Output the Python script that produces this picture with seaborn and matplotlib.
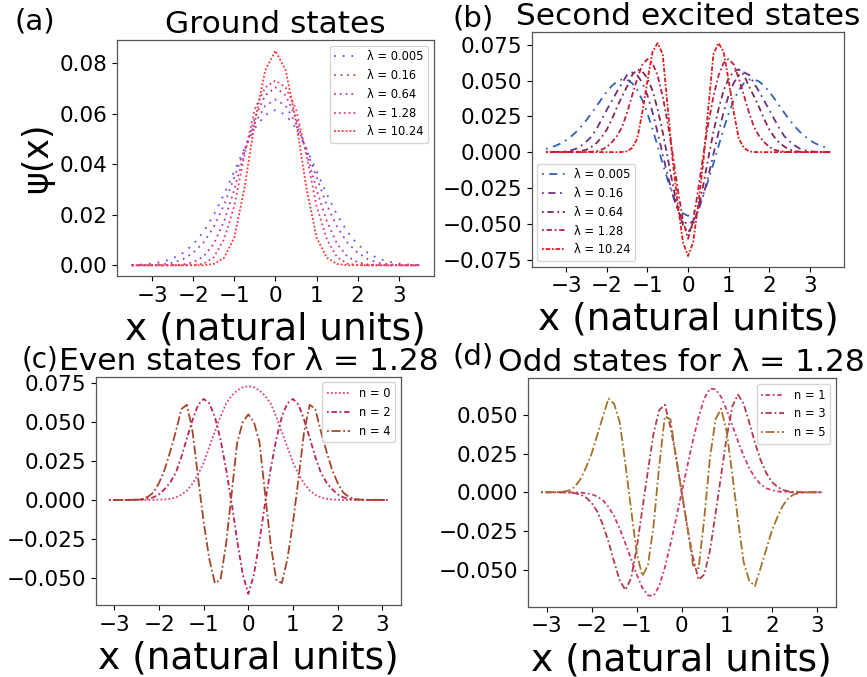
import matplotlib
matplotlib.use("Agg")
import matplotlib.pyplot as plt
import seaborn as sns

# ---- data ----
# (a) ground states, x grid step 0.25
X_A = [-3.5, -3.25, -3.0, -2.75, -2.5, -2.25, -2.0, -1.75, -1.5, -1.25, -1.0, -0.75, -0.5, -0.25,
       0.0, 0.25, 0.5, 0.75, 1.0, 1.25, 1.5, 1.75, 2.0, 2.25, 2.5, 2.75, 3.0, 3.25, 3.5]
A_LAMBDAS = ["0.005", "0.16", "0.64", "1.28", "10.24"]
A_005 = [0.0001, 0.0003, 0.0007, 0.0014, 0.0027, 0.0049, 0.0083, 0.0133, 0.0200, 0.0282, 0.0373, 0.0464, 0.0543, 0.0596,
         0.0615, 0.0596, 0.0543, 0.0464, 0.0373, 0.0282, 0.0200, 0.0133, 0.0083, 0.0049, 0.0027, 0.0014, 0.0007, 0.0003, 0.0001]
A_016 = [0.0, 0.0, 0.0001, 0.0004, 0.0010, 0.0024, 0.0050, 0.0090, 0.0152, 0.0240, 0.0350, 0.0461, 0.0562, 0.0632,
         0.0657, 0.0632, 0.0562, 0.0461, 0.0350, 0.0240, 0.0152, 0.0090, 0.0050, 0.0024, 0.0010, 0.0004, 0.0001, 0.0, 0.0]
A_064 = [0.0, 0.0, 0.0, 0.0, 0.0001, 0.0003, 0.0012, 0.0035, 0.0085, 0.0175, 0.0300, 0.0450, 0.0585, 0.0673,
         0.0705, 0.0673, 0.0585, 0.0450, 0.0300, 0.0175, 0.0085, 0.0035, 0.0012, 0.0003, 0.0001, 0.0, 0.0, 0.0, 0.0]
A_128 = [0.0, 0.0, 0.0, 0.0, 0.0, 0.0, 0.0001, 0.0006, 0.0032, 0.0103, 0.0236, 0.0440, 0.0620, 0.0704,
         0.0733, 0.0704, 0.0620, 0.0440, 0.0236, 0.0103, 0.0032, 0.0006, 0.0001, 0.0, 0.0, 0.0, 0.0, 0.0, 0.0]
A_1024 = [0.0, 0.0, 0.0, 0.0, 0.0, 0.0, 0.0, 0.0, 0.0005, 0.0030, 0.0110, 0.0310, 0.0570, 0.0772,
          0.0850, 0.0772, 0.0570, 0.0310, 0.0110, 0.0030, 0.0005, 0.0, 0.0, 0.0, 0.0, 0.0, 0.0, 0.0, 0.0]

# (b) second excited states, x grid step 0.125
X_B = [-3.5, -3.375, -3.25, -3.125, -3.0, -2.875, -2.75, -2.625, -2.5, -2.375, -2.25, -2.125, -2.0, -1.875,
       -1.75, -1.625, -1.5, -1.375, -1.25, -1.125, -1.0, -0.875, -0.75, -0.625, -0.5, -0.375, -0.25, -0.125,
       0.0, 0.125, 0.25, 0.375, 0.5, 0.625, 0.75, 0.875, 1.0, 1.125, 1.25, 1.375, 1.5, 1.625, 1.75, 1.875,
       2.0, 2.125, 2.25, 2.375, 2.5, 2.625, 2.75, 2.875, 3.0, 3.125, 3.25, 3.375, 3.5]
B_005 = [0.0023, 0.0033, 0.0046, 0.0062, 0.0084, 0.0111, 0.0143, 0.0181, 0.0225, 0.0273, 0.0323, 0.0374, 0.0422, 0.0463,
         0.0493, 0.0509, 0.0506, 0.0481, 0.0433, 0.0362, 0.0270, 0.0161, 0.0042, -0.0080, -0.0196, -0.0298, -0.0377, -0.0428,
         -0.0445, -0.0428, -0.0377, -0.0298, -0.0196, -0.0080, 0.0042, 0.0161, 0.0270, 0.0362, 0.0433, 0.0481, 0.0506, 0.0509,
         0.0493, 0.0463, 0.0422, 0.0374, 0.0323, 0.0273, 0.0225, 0.0181, 0.0143, 0.0111, 0.0084, 0.0062, 0.0046, 0.0033, 0.0023]
B_016 = [0.0, 0.0, 0.0001, 0.0003, 0.0006, 0.0013, 0.0025, 0.0047, 0.0075, 0.0110, 0.0164, 0.0230, 0.0296, 0.0359,
         0.0423, 0.0482, 0.0540, 0.0557, 0.0537, 0.0484, 0.0396, 0.0278, 0.0137, -0.0015, -0.0166, -0.0302, -0.0411, -0.0481,
         -0.0505, -0.0481, -0.0411, -0.0302, -0.0166, -0.0015, 0.0137, 0.0278, 0.0396, 0.0484, 0.0537, 0.0557, 0.0540, 0.0482,
         0.0423, 0.0359, 0.0296, 0.0230, 0.0164, 0.0110, 0.0075, 0.0047, 0.0025, 0.0013, 0.0006, 0.0003, 0.0001, 0.0, 0.0]
B_064 = [0.0, 0.0, 0.0, 0.0, 0.0, 0.0001, 0.0003, 0.0008, 0.0018, 0.0038, 0.0065, 0.0105, 0.0158, 0.0230,
         0.0314, 0.0389, 0.0460, 0.0540, 0.0578, 0.0563, 0.0515, 0.0430, 0.0300, 0.0140, -0.0040, -0.0230, -0.0395, -0.0510,
         -0.0560, -0.0510, -0.0395, -0.0230, -0.0040, 0.0140, 0.0300, 0.0430, 0.0515, 0.0563, 0.0578, 0.0540, 0.0460, 0.0389,
         0.0314, 0.0230, 0.0158, 0.0105, 0.0065, 0.0038, 0.0018, 0.0008, 0.0003, 0.0001, 0.0, 0.0, 0.0, 0.0, 0.0]
B_128 = [0.0, 0.0, 0.0, 0.0, 0.0, 0.0, 0.0, 0.0, 0.0001, 0.0003, 0.0007, 0.0017, 0.0036, 0.0070,
         0.0112, 0.0175, 0.0277, 0.0398, 0.0515, 0.0612, 0.0650, 0.0622, 0.0535, 0.0390, 0.0200, -0.0020, -0.0262, -0.0480,
         -0.0605, -0.0480, -0.0262, -0.0020, 0.0200, 0.0390, 0.0535, 0.0622, 0.0650, 0.0612, 0.0515, 0.0398, 0.0277, 0.0175,
         0.0112, 0.0070, 0.0036, 0.0017, 0.0007, 0.0003, 0.0001, 0.0, 0.0, 0.0, 0.0, 0.0, 0.0, 0.0, 0.0]
B_1024 = [0.0, 0.0, 0.0, 0.0, 0.0, 0.0, 0.0, 0.0, 0.0, 0.0, 0.0, 0.0, 0.0, 0.0,
          0.0, 0.0001, 0.0006, 0.0030, 0.0095, 0.0280, 0.0500, 0.0700, 0.0762, 0.0685, 0.0310, -0.0070, -0.0370, -0.0630,
          -0.0726, -0.0630, -0.0370, -0.0070, 0.0310, 0.0685, 0.0762, 0.0700, 0.0500, 0.0280, 0.0095, 0.0030, 0.0006, 0.0001,
          0.0, 0.0, 0.0, 0.0, 0.0, 0.0, 0.0, 0.0, 0.0, 0.0, 0.0, 0.0, 0.0, 0.0, 0.0]

# (c), (d) states for lambda = 1.28, x grid step 0.125
X_C = [-3.125, -3.0, -2.875, -2.75, -2.625, -2.5, -2.375, -2.25, -2.125, -2.0, -1.875, -1.75, -1.625,
       -1.5, -1.375, -1.25, -1.125, -1.0, -0.875, -0.75, -0.625, -0.5, -0.375, -0.25, -0.125,
       0.0, 0.125, 0.25, 0.375, 0.5, 0.625, 0.75, 0.875, 1.0, 1.125, 1.25, 1.375, 1.5,
       1.625, 1.75, 1.875, 2.0, 2.125, 2.25, 2.375, 2.5, 2.625, 2.75, 2.875, 3.0, 3.125]
C_N0 = [0.0, 0.0, 0.0, 0.0, 0.0, 0.0, 0.0, 0.0, 0.0, 0.0001, 0.0003, 0.0007, 0.0016,
        0.0033, 0.0060, 0.0105, 0.0165, 0.0240, 0.0340, 0.0440, 0.0535, 0.0620, 0.0670, 0.0704, 0.0725,
        0.0732, 0.0725, 0.0704, 0.0670, 0.0620, 0.0535, 0.0440, 0.0340, 0.0240, 0.0165, 0.0105, 0.0060, 0.0033,
        0.0016, 0.0007, 0.0003, 0.0001, 0.0, 0.0, 0.0, 0.0, 0.0, 0.0, 0.0, 0.0, 0.0]
C_N2 = [0.0, 0.0, 0.0, 0.0, 0.0, 0.0001, 0.0003, 0.0007, 0.0017, 0.0036, 0.0070, 0.0112, 0.0175,
        0.0277, 0.0398, 0.0515, 0.0612, 0.0650, 0.0622, 0.0535, 0.0390, 0.0200, -0.0020, -0.0262, -0.0480,
        -0.0605, -0.0480, -0.0262, -0.0020, 0.0200, 0.0390, 0.0535, 0.0622, 0.0650, 0.0612, 0.0515, 0.0398, 0.0277,
        0.0175, 0.0112, 0.0070, 0.0036, 0.0017, 0.0007, 0.0003, 0.0001, 0.0, 0.0, 0.0, 0.0, 0.0]
C_N4 = [0.0, 0.0, 0.0, 0.0, 0.0001, 0.0002, 0.0007, 0.0020, 0.0048, 0.0110, 0.0195, 0.0312, 0.0440,
        0.0585, 0.0612, 0.0440, 0.0140, -0.0145, -0.0380, -0.0535, -0.0515, -0.0285, 0.0040, 0.0370, 0.0500,
        0.0551, 0.0500, 0.0370, 0.0040, -0.0285, -0.0515, -0.0535, -0.0380, -0.0145, 0.0140, 0.0440, 0.0612, 0.0585,
        0.0440, 0.0312, 0.0195, 0.0110, 0.0048, 0.0020, 0.0007, 0.0002, 0.0001, 0.0, 0.0, 0.0, 0.0]
D_N1 = [0.0, 0.0, 0.0, 0.0, 0.0, 0.0, -0.0001, -0.0002, -0.0006, -0.0013, -0.0027, -0.0052, -0.0095,
        -0.0155, -0.0235, -0.0330, -0.0430, -0.0530, -0.0615, -0.0665, -0.0668, -0.0605, -0.0485, -0.0335, -0.0170,
        0.0, 0.0170, 0.0335, 0.0485, 0.0605, 0.0668, 0.0665, 0.0615, 0.0530, 0.0430, 0.0330, 0.0235, 0.0155,
        0.0095, 0.0052, 0.0027, 0.0013, 0.0006, 0.0002, 0.0001, 0.0, 0.0, 0.0, 0.0, 0.0, 0.0]
D_N3 = [0.0, 0.0, 0.0, 0.0, -0.0001, -0.0002, -0.0006, -0.0015, -0.0034, -0.0068, -0.0125, -0.0210, -0.0320,
        -0.0450, -0.0570, -0.0630, -0.0555, -0.0360, -0.0110, 0.0140, 0.0380, 0.0530, 0.0565, 0.0420, 0.0230,
        0.0, -0.0230, -0.0420, -0.0565, -0.0530, -0.0380, -0.0140, 0.0110, 0.0360, 0.0555, 0.0630, 0.0570, 0.0450,
        0.0320, 0.0210, 0.0125, 0.0068, 0.0034, 0.0015, 0.0006, 0.0002, 0.0001, 0.0, 0.0, 0.0, 0.0]
D_N5 = [0.0, 0.0, 0.0, 0.0001, 0.0004, 0.0012, 0.0035, 0.0084, 0.0160, 0.0250, 0.0370, 0.0490, 0.0605,
        0.0570, 0.0450, 0.0180, -0.0110, -0.0390, -0.0540, -0.0470, -0.0215, 0.0170, 0.0490, 0.0470, 0.0220,
        0.0, -0.0220, -0.0470, -0.0490, -0.0170, 0.0215, 0.0470, 0.0540, 0.0390, 0.0110, -0.0180, -0.0450, -0.0570,
        -0.0605, -0.0490, -0.0370, -0.0250, -0.0160, -0.0084, -0.0035, -0.0012, -0.0004, -0.0001, 0.0, 0.0, 0.0]

A_COLORS = ["#5555ff", "#9a3fd6", "#c0359c", "#e83a6a", "#ff3333"]
B_COLORS = ["#2e62b5", "#6b2f87", "#7d2957", "#b81f40", "#e41a1c"]
C_COLORS = ["#e04478", "#c0234c", "#a5462a"]
D_COLORS = ["#d2386e", "#b23a4c", "#a4702a"]

A_STYLES = [(0, (1, 3.8)), (0, (1, 2.6)), (0, (1, 2.2)), (0, (1, 1.7)), (0, (1, 1.15))]
B_STYLES = [(0, (1, 3, 4.5, 3)), (0, (1, 2.5, 4, 2.5)), (0, (1, 2, 3.5, 2)),
            (0, (1, 1.5, 3, 1.5)), (0, (1, 1, 2.5, 1))]
C_STYLES = [(0, (1, 1.2)), (0, (1, 1.5, 3, 1.5)), (0, (1, 1.5, 5, 1.5))]
D_STYLES = [(0, (1, 1.5, 2.5, 1.5)), (0, (1, 1.5, 3.5, 1.5)), (0, (1, 1.5, 5, 1.5))]

sns.set_style("ticks")
plt.rcParams["font.family"] = ["DejaVu Sans"]
for key in ["text.color", "axes.labelcolor", "xtick.color", "ytick.color"]:
    plt.rcParams[key] = "black"

fig = plt.figure(figsize=(8.67, 6.77), dpi=100)


def panel(rect, x, curves, labels, colors, styles, title, xlim, ylim, yticks, legend_loc):
    ax = fig.add_axes(rect)
    for y, lab, c, ls in zip(curves, labels, colors, styles):
        sns.lineplot(x=x, y=y, ax=ax, color=c, linestyle=ls, linewidth=1.3,
                     label=lab, errorbar=None, legend=False)
    ax.set_xlim(*xlim)
    ax.set_ylim(*ylim)
    ax.set_xticks([-3, -2, -1, 0, 1, 2, 3])
    ax.set_yticks(yticks)
    ax.tick_params(labelsize=15.5, width=0.8)
    for s in ax.spines.values():
        s.set_color("#555555")
        s.set_linewidth(0.9)
    ax.set_xlabel("x (natural units)", fontsize=27)
    ax.set_ylabel("")
    ax.set_title(title, fontsize=22.5, pad=5)
    ax.legend(loc=legend_loc, fontsize=8.3, handlelength=2.0, borderaxespad=0.5)
    return ax


ax_a = panel([0.1353, 0.5923, 0.3648, 0.3486], X_A, [A_005, A_016, A_064, A_128, A_1024],
             ["λ = " + v for v in A_LAMBDAS], A_COLORS, A_STYLES, "Ground states",
             (-3.85, 3.85), (-0.00425, 0.08925), [0.0, 0.02, 0.04, 0.06, 0.08], "upper right")
ax_a.set_ylabel("ψ(x)", fontsize=25)

panel([0.6133, 0.6061, 0.3606, 0.3462], X_B, [B_005, B_016, B_064, B_128, B_1024],
      ["λ = " + v for v in A_LAMBDAS], B_COLORS, B_STYLES, "Second excited states",
      (-3.85, 3.85), (-0.0800, 0.0837), [-0.075, -0.05, -0.025, 0.0, 0.025, 0.05, 0.075], "lower left")

panel([0.1104, 0.1064, 0.3521, 0.3372], X_C, [C_N0, C_N2, C_N4],
      ["n = 0", "n = 2", "n = 4"], C_COLORS, C_STYLES, "Even states for λ = 1.28",
      (-3.42, 3.42), (-0.0676, 0.0793), [-0.05, -0.025, 0.0, 0.025, 0.05, 0.075], "upper right")

panel([0.6087, 0.1038, 0.3552, 0.3374], X_C, [D_N1, D_N3, D_N5],
      ["n = 1", "n = 3", "n = 5"], D_COLORS, D_STYLES, "Odd states for λ = 1.28",
      (-3.42, 3.42), (-0.0738, 0.0735), [-0.05, -0.025, 0.0, 0.025, 0.05], "upper right")

fig.text(0.0173, 0.9564, "(a)", fontsize=21, va="baseline")
fig.text(0.5221, 0.9606, "(b)", fontsize=21, va="baseline")
fig.text(0.0245, 0.4575, "(c)", fontsize=20, va="baseline")
fig.text(0.5221, 0.4609, "(d)", fontsize=21, va="baseline")

fig.savefig("out.png", dpi=100)
